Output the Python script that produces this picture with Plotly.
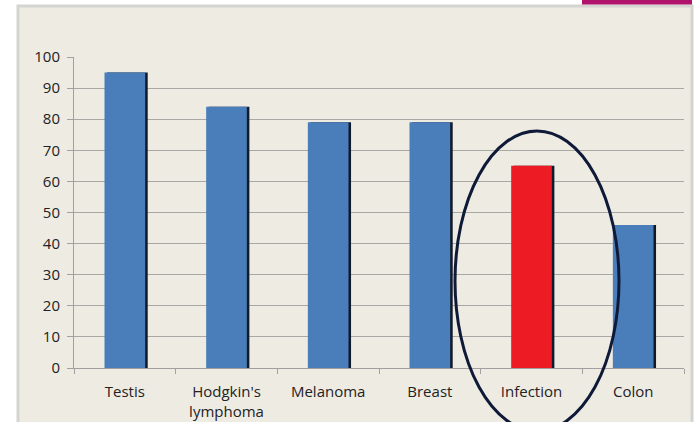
import plotly.graph_objects as go

categories = ["Testis", "Hodgkin's<br>lymphoma", "Melanoma", "Breast", "Infection", "Colon"]
values = [95, 84, 79, 79, 65, 46]
bar_colors = ["#4a7ebb", "#4a7ebb", "#4a7ebb", "#4a7ebb", "#ed1c24", "#4a7ebb"]
y_ticks = [0, 10, 20, 30, 40, 50, 60, 70, 80, 90, 100]

W, H = 696, 422
L, R, T, B = 74, 12, 57, 54
pw, ph = W - L - R, H - T - B

def px(x):
    return (x - L) / pw

def py(y):
    return (H - B - y) / ph

fig = go.Figure()
# shadow
fig.add_trace(go.Bar(x=categories, y=values, marker=dict(color="#111a2a", line=dict(width=0)),
                     width=0.4, offset=-0.2 + 0.025, hoverinfo="skip", showlegend=False))
fig.add_trace(go.Bar(x=categories, y=values, marker=dict(color=bar_colors, line=dict(width=0)),
                     width=0.4, offset=-0.2, showlegend=False))

shapes = [
    # panel
    dict(type="rect", xref="paper", yref="paper", x0=px(18), x1=px(692), y0=py(436), y1=py(6),
         fillcolor="#eeebe3", line=dict(color="#d4d4d0", width=3), layer="below"),
    # pink strip
    dict(type="rect", xref="paper", yref="paper", x0=px(582), x1=px(692), y0=py(4.5), y1=py(-2),
         fillcolor="#b0136b", line=dict(width=0), layer="above"),
    # ellipse
    dict(type="circle", xref="paper", yref="paper", x0=px(455), x1=px(619), y0=py(431), y1=py(131),
         line=dict(color="#0f1a38", width=3), layer="above"),
]

fig.update_layout(
    width=W, height=H,
    margin=dict(l=L, r=R, t=T, b=B, autoexpand=False),
    paper_bgcolor="white",
    plot_bgcolor="#eeebe3",
    barmode="overlay",
    bargap=0.6,
    font=dict(family="Open Sans", size=15, color="#222222"),
    shapes=shapes,
    xaxis=dict(
        automargin=False,
        showline=True, linecolor="#a0a0a0", linewidth=1,
        ticks="outside", tickson="boundaries", ticklen=5, tickcolor="#a0a0a0",
        showgrid=False, ticklabelstandoff=10,
    ),
    yaxis=dict(
        automargin=False,
        range=[0, 100], tickvals=y_ticks, showline=True, linecolor="#a0a0a0", linewidth=1,
        ticks="outside", ticklen=6, tickcolor="#a0a0a0",
        showgrid=True, gridcolor="#a8a8a4", gridwidth=1, zeroline=False,
        ticklabelstandoff=4,
    ),
)

fig.write_html("out.html")
